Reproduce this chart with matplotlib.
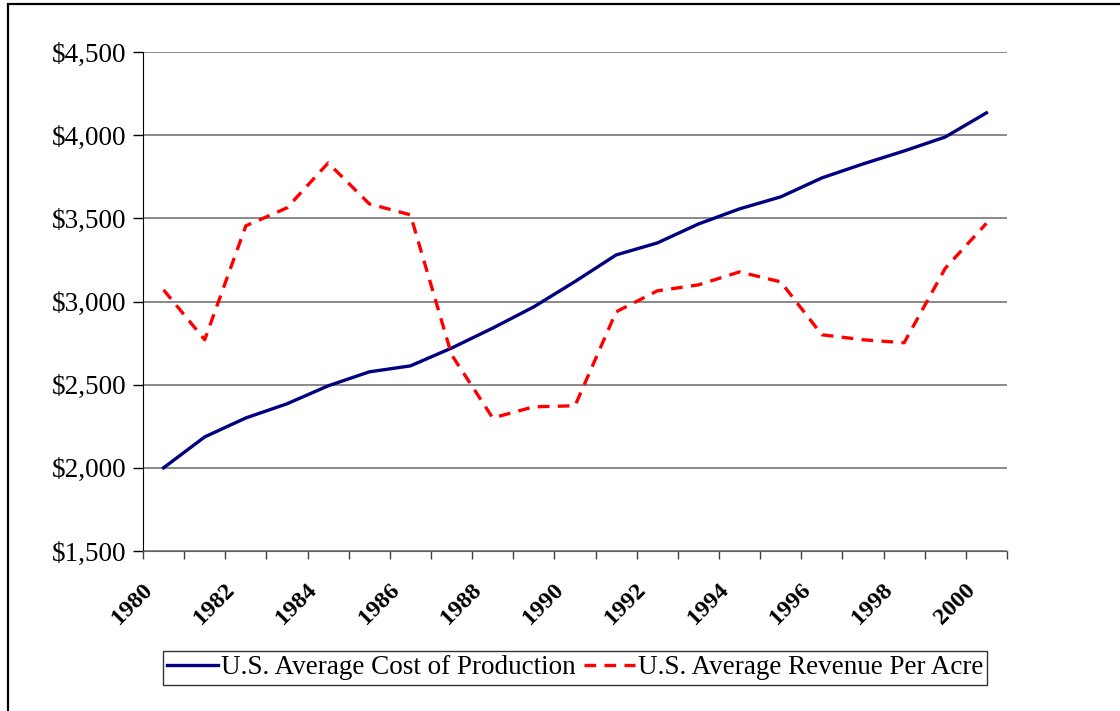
import matplotlib.pyplot as plt
import matplotlib.patches as mpatches
from matplotlib.ticker import FuncFormatter, FixedLocator
import matplotlib.transforms as mtransforms

years = list(range(1980, 2001))
cost = [2000, 2186, 2300, 2385, 2493, 2577, 2613, 2720, 2840, 2968, 3120,
        3280, 3352, 3466, 3557, 3629, 3743, 3827, 3905, 3989, 4134]
revenue = [3070, 2770, 3455, 3563, 3833, 3587, 3521, 2680, 2300, 2367, 2373,
           2938, 3064, 3100, 3178, 3118, 2800, 2770, 2752, 3200, 3470]
labels = ['U.S. Average Cost of Production', 'U.S. Average Revenue Per Acre']

plt.rcParams['font.family'] = ['Liberation Serif', 'DejaVu Serif']

fig = plt.figure(figsize=(11.2, 7.11), dpi=100)
ax = fig.add_axes([143 / 1120, 1 - 551 / 711, 864 / 1120, 499 / 711])

x = list(range(len(years)))
ax.plot(x, cost, color='#000080', lw=2.4, label=labels[0], solid_joinstyle='round')
ax.plot(x, revenue, color='#ff0000', lw=2.4, ls=(0, (3.5, 2.5)), label=labels[1])

ax.set_xlim(-0.5, len(years) - 0.5)
ax.set_ylim(1500, 4500)
ax.set_yticks(range(1500, 4501, 500))
ax.yaxis.set_major_formatter(FuncFormatter(lambda v, p: '${:,.0f}'.format(v)))
ax.grid(axis='y', color='#808080', lw=1.3)
ax.set_axisbelow(True)

# tick marks between categories, labels on every other year
ax.xaxis.set_minor_locator(FixedLocator([i - 0.5 for i in range(len(years) + 1)]))
ax.set_xticks(x[::2])
ax.set_xticklabels([str(y) for y in years[::2]], rotation=45, ha='right',
                   rotation_mode='anchor', fontsize=17.5, fontweight='bold')
ax.tick_params(axis='x', which='major', length=0, pad=12)
ax.tick_params(axis='x', which='minor', length=6, width=1, color='#404040', direction='out')
ax.tick_params(axis='y', length=7, width=1, labelsize=19.5, direction='out', pad=5)

# nudge year labels (after tick_params, which resets transforms)
shift = mtransforms.ScaledTranslation(-22 / 100, -12 / 100, fig.dpi_scale_trans)
for t in ax.get_xticklabels():
    t.set_transform(t.get_transform() + shift)

for s in ['top', 'right']:
    ax.spines[s].set_visible(False)
ax.spines['left'].set_color('black')
ax.spines['bottom'].set_color('#606060')

leg = fig.legend(loc='center', bbox_to_anchor=(575 / 1120, 1 - 668 / 711),
                 ncol=2, fontsize=19.5, frameon=True, fancybox=False,
                 edgecolor='black', handlelength=1.9, handletextpad=0.1,
                 columnspacing=0.3, borderpad=0.15, borderaxespad=0)
leg.get_frame().set_linewidth(1.0)

# outer chart border (cropped at right and bottom)
fig.patches.append(mpatches.Rectangle((8 / 1120, -0.1), 1.2, (711 - 4) / 711 + 0.1,
                                      transform=fig.transFigure, fill=False,
                                      edgecolor='black', lw=1.6))

fig.savefig('out.png', dpi=100)
